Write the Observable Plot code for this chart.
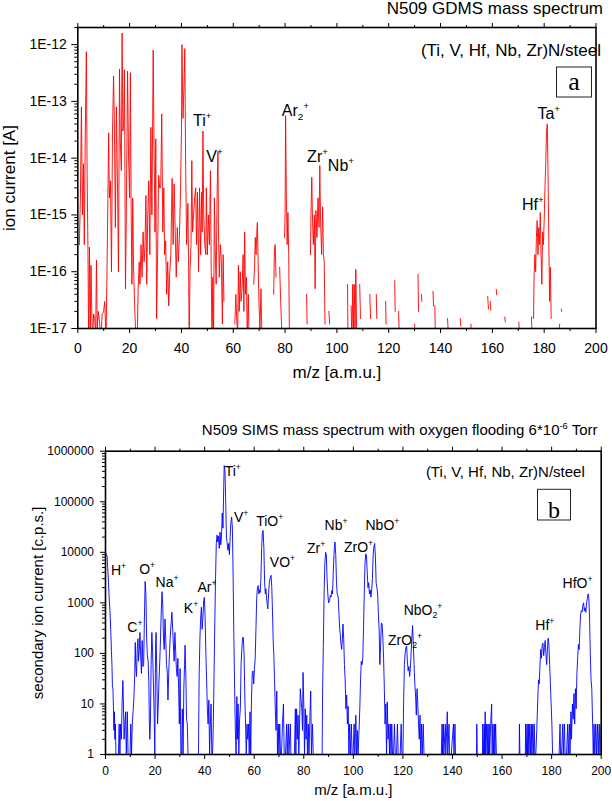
<!DOCTYPE html>
<html><head><meta charset="utf-8">
<script src="https://cdn.jsdelivr.net/npm/d3@7"></script>
<script src="https://cdn.jsdelivr.net/npm/@observablehq/plot@0.6"></script>
<style>
body{margin:0;background:#fff;}
#root{position:relative;width:612px;height:801px;background:#fff;overflow:hidden;}
#root svg{position:absolute;left:0;}
</style>
</head><body><div id="root"></div>
<script>
// ---------- DATA ----------
const gdmsSpectrum = [
[0.6,3e-16],[1.0,2e-15],[1.4,8e-14],[1.8,1e-15],[2.2,8e-15],[2.5,3e-16],[2.9,3e-14],[3.3,7.5e-13],[3.6,5e-15],[3.9,3e-16],[4.2,5e-18],[4.5,2.7e-16],[4.8,1e-17],[5.1,1.3e-16],[5.4,2e-17],[5.7,6e-18],[6.1,1.8e-17],[6.5,1.5e-17],[6.9,8e-18],[7.2,1.6e-16],[7.5,1e-17],[7.9,2e-17],[8.4,1.3e-17],[8.9,6e-18],[9.4,1.8e-17],[9.9,1.9e-17],[10.4,3e-17],[10.9,6e-18],
[11.4,3e-16],[11.9,2.8e-14],[12.2,2e-15],[12.6,4e-15],[13.0,1e-16],[13.4,3e-14],[13.8,2.8e-13],[14.1,5e-14],[14.5,6e-16],[14.9,8e-14],[15.3,4e-15],[15.7,1e-16],[16.1,3.7e-13],[16.4,2e-14],[16.8,6e-15],[17.1,1.6e-12],[17.4,3e-14],[17.7,4e-14],[18.0,3.6e-13],[18.4,5e-17],[18.7,8e-16],[19.2,3.4e-13],[19.6,1e-14],[20.0,2e-15],[20.3,3.2e-13],[20.6,1e-15],[20.9,6e-17],[21.2,2e-15],[21.5,1.3e-16],[22.0,2e-17],[22.5,6e-18],[22.9,5e-18],[23.3,5e-17],[23.7,1.5e-16],[24.0,6e-17],[24.4,3e-16],[24.8,8e-17],[25.2,5e-16],[25.6,1.5e-16],[25.9,2.7e-16],[26.3,2.2e-15],[26.6,6e-17],[27.0,1e-15],[27.4,4e-15],[27.8,2e-16],[28.2,3.5e-14],[28.6,1e-15],[29.1,8e-13],[29.4,2e-14],[29.8,5e-16],[30.1,2.2e-14],[30.4,1.5e-17],[30.8,2e-16],[31.2,5e-15],[31.6,3e-15],[32.0,3e-15],[32.4,6e-14],[32.8,5e-16],[33.2,3e-15],[33.5,2e-16],[33.9,3.5e-16],[34.3,4e-17],[34.7,1.5e-16],[35.1,2.5e-17],[35.5,1e-16],[35.9,2e-16],[36.4,4.4e-15],[36.8,3e-16],[37.2,3.5e-15],[37.6,5e-16],[38.0,8e-17],[38.4,6e-16],[38.8,1.5e-16],[39.2,4e-16],[39.6,2e-15],[40.0,3e-14],[40.2,1e-12],[40.6,5e-14],[41.0,2e-13],[41.3,8.5e-13],[41.6,1e-14],[42.0,3e-16],[42.5,1.6e-15],[42.8,8e-17],[43.0,5e-18],[43.3,1e-16],[43.7,3e-16],[44.0,9e-15],[44.3,5e-16],[44.7,1e-15],[45.1,2e-15],[45.5,3e-15],[45.8,3e-16],[46.2,2.5e-15],[46.6,1e-16],[47.0,3e-15],[47.4,2e-16],[47.8,2.5e-15],[48.0,5e-16],[48.3,3e-14],[48.6,1e-15],[49.0,3e-16],[49.4,2e-16],[49.6,3e-15],[50.0,2e-16],[50.4,1e-15],[50.8,3e-16],[51.2,6e-15],[51.5,1e-16],[51.8,5e-18],[52.1,8e-17],[52.4,5e-18],[52.7,2e-15],[53.0,3e-16],[53.4,6e-17],[53.8,3e-15],[54.1,1.3e-14],[54.3,5e-16],[54.6,8e-17],[55.0,3e-16],[55.4,1.5e-16],[55.8,1.2e-17],[56.1,2e-16],[56.4,3e-17],[56.6,null],
[60.6,1.2e-17],[61.0,4e-17],[61.3,1.5e-17],[61.7,8e-18],[62.0,1.3e-16],[62.3,2e-17],[62.7,1e-16],[63.0,3e-17],[63.4,5e-17],[63.8,2e-16],[64.1,2e-17],[64.4,5e-16],[64.7,4e-17],[65.1,8e-17],[65.4,6e-18],[65.8,4e-17],[66.1,6e-18],[66.4,null],
[67.9,6e-17],[68.2,1.2e-16],[68.5,4e-16],[68.8,2e-16],[69.1,5e-16],[69.3,7.4e-16],[69.6,1.5e-16],[69.9,3e-17],[70.3,1e-17],[70.7,5e-17],[71.1,6e-18],[71.3,null],
[75.6,4e-17],[75.9,2.5e-16],[76.2,3e-16],[76.5,8e-17],[76.7,null],
[77.9,1.2e-16],[78.3,3e-17],[78.7,1e-17],[78.9,null],
[79.8,4e-16],[80.0,1e-15],[80.2,5.6e-14],[80.5,2e-15],[80.8,3e-16],[81.1,1.1e-15],[81.4,2e-16],[81.7,5e-18],[81.9,null],
[88.3,4e-17],[88.5,1.2e-17],[88.7,null],
[89.8,2e-16],[90.0,1e-15],[90.3,4.6e-15],[90.6,8e-16],[90.9,3e-16],[91.3,1e-15],[91.6,5e-17],[91.9,1.2e-15],[92.3,4e-16],[92.7,2e-15],[93.1,6e-16],[93.4,7.4e-15],[93.7,8e-16],[94.1,2e-16],[94.5,1.4e-15],[94.8,2e-16],[95.1,1.5e-16],[95.4,1.2e-17],[95.6,null],
[96.9,2e-17],[97.2,1.2e-17],[97.4,null],
[104.1,6e-17],[104.3,5e-18],[104.6,null],
[105.5,2.5e-17],[105.8,5e-18],[106.1,6e-17],[106.4,1e-17],[106.7,6e-17],[107.0,8e-18],[107.3,1.1e-16],[107.6,1e-17],[107.8,null],
[108.8,6e-17],[109.1,1.5e-17],[109.3,null],
[112.7,4e-17],[113.0,1.5e-17],[113.2,null],
[115.2,4e-17],[115.4,1.5e-17],[115.6,null],
[118.8,3e-17],[119.0,1.2e-17],[119.2,null],
[122.3,7e-17],[122.5,2e-17],[122.7,null],
[123.8,2e-17],[124.0,1e-17],[124.2,null],
[130.0,1.2e-17],[130.2,8e-18],[130.4,null],
[131.3,9e-17],[131.5,2e-17],[131.7,null],
[132.6,4e-17],[132.8,3e-17],[133.0,null],
[137.1,4.5e-17],[137.3,2.5e-17],[137.5,null],
[137.8,2.5e-17],[138.0,8e-18],[138.2,null],
[142.7,1.5e-17],[142.9,1e-17],[143.1,null],
[147.6,1.5e-17],[147.8,1.1e-17],[148.0,null],
[151.7,1.2e-17],[151.9,8e-18],[152.1,null],
[158.2,3.7e-17],[158.5,2.2e-17],[158.7,null],
[159.2,3e-17],[159.4,2.1e-17],[159.6,null],
[161.5,4.9e-17],[161.7,3.9e-17],[161.9,null],
[164.8,1.6e-17],[165.0,1.3e-17],[165.2,null],
[170.2,1.3e-17],[170.4,9e-18],[170.6,null],
[175.1,1.6e-17],[175.3,8e-18],[175.5,null],
[175.9,1.5e-17],[176.1,8e-17],[176.4,2e-16],[176.7,1e-16],[177.0,4e-16],[177.3,8e-16],[177.6,2e-16],[177.9,6e-16],[178.2,3e-16],[178.5,1.1e-15],[178.8,2e-16],[179.1,6e-17],[179.4,5e-16],[179.7,3e-16],[180.0,8e-16],[180.3,3e-15],[180.6,8e-15],[180.9,3e-14],[181.2,4e-14],[181.5,5e-15],[181.8,3e-16],[182.1,3e-17],[182.4,1.2e-16],[182.7,1.5e-17],[182.9,null],
[185.8,1e-17],[186.0,1.2e-17],[186.2,null],
[186.6,2.2e-17],[186.8,2e-17]
];

const simsSpectrum = [
[0.0,9000],[0.3,9300],[0.6,8500],[0.9,5000],[1.2,2500],[1.5,1200],[1.8,700],[2.1,300],[2.4,110],[2.6,60],[2.8,22],[3.0,20],[3.2,9],[3.4,3],[3.6,7],[3.8,2],[4.0,4],[4.2,1],[4.5,1],[4.8,1],
[5.2,1],[5.5,4],[5.8,1],[6.1,4],[6.4,2],[6.7,10],[7.0,29],[7.2,12],[7.5,2],[7.8,4],[8.1,7],[8.4,1],[8.8,7],[9.1,1],[9.5,1],[9.9,1],[10.2,4],[10.5,1],[10.8,4],
[11.2,8],[11.5,15],[11.8,40],[12.0,165],[12.2,60],[12.5,35],[12.8,120],[13.1,195],[13.3,70],[13.6,110],[13.9,260],[14.2,90],[14.5,40],[14.8,180],[15.1,55],[15.4,60],[15.7,500],[16.0,2650],[16.3,1500],[16.6,200],[16.9,90],[17.2,70],[17.5,25],[17.7,4],[17.9,2],[18.1,4],[18.4,60],[18.7,260],[19.0,110],[19.3,30],[19.6,7],[19.9,1],[20.2,120],[20.4,260],[20.7,40],[21.0,4],[21.3,10],[21.6,30],[21.9,70],[22.2,200],[22.5,700],[22.8,1660],[23.1,900],[23.4,200],[23.7,120],[24.0,480],[24.3,200],[24.6,60],[24.9,45],[25.2,12],[25.5,40],[25.8,100],[26.1,200],[26.4,350],[26.8,650],[27.1,300],[27.4,150],[27.7,70],[28.0,260],[28.3,110],[28.6,50],[28.9,35],[29.2,80],[29.5,20],[29.8,4],[30.1,50],[30.4,1],[30.7,1],[31.0,8],[31.3,1],[31.6,20],[31.9,60],[32.1,145],[32.4,40],[32.7,5],[33.0,4],[33.3,1],
[34.0,1],[35.0,1],[36.0,1],[37.0,1],[37.5,1],[37.8,40],[38.1,200],[38.4,500],[38.7,820],[39.0,300],[39.3,500],[39.6,1100],[39.9,1280],[40.2,500],[40.5,100],[40.8,30],[41.1,8],[41.4,4],[41.7,12],[42.0,1],[42.3,4],[42.6,10],[42.9,1],[43.2,1],[43.5,4],[43.8,40],[44.1,400],[44.4,3000],[44.7,15000],[45.0,22000],[45.3,16000],[45.6,21000],[45.9,12000],[46.2,25000],[46.5,14000],[46.8,20000],[47.1,60000],[47.4,30000],[47.7,200000],[47.9,520000],[48.2,400000],[48.5,100000],[48.8,20000],[49.1,15000],[49.4,11000],[49.7,15000],[50.0,9000],[50.3,20000],[50.6,40000],[50.9,50000],[51.2,30000],[51.5,3000],[51.8,200],[52.1,20],[52.4,3],[52.7,1],[53.0,14],[53.2,2],[53.5,10],[53.8,1],[54.1,5],[54.4,8],[54.7,60],[55.0,120],[55.3,200],[55.6,210],[55.9,100],[56.2,15],[56.5,4],[56.8,1],[57.1,4],[57.4,2],[57.7,4],[58.0,1],[58.3,7],[58.6,1],[58.9,12],[59.2,40],[59.5,45],[59.8,25],[60.1,50],
[60.4,80],[60.7,300],[61.0,1200],[61.3,2000],[61.6,2200],[61.9,1500],[62.2,1800],[62.4,1600],[62.7,3000],[63.0,12000],[63.3,25000],[63.6,27000],[63.9,12000],[64.2,2500],[64.5,1500],[64.7,1900],[65.0,1200],[65.3,900],[65.5,760],[65.8,1500],[66.1,2500],[66.5,3200],[66.8,3500],[67.1,2000],[67.4,600],[67.7,150],[67.9,98],[68.2,30],[68.5,8],[68.8,3],[69.1,18],[69.4,1],[69.7,4],[70.0,1],[70.3,4],[70.6,1],[71.0,1],[71.4,4],[71.8,10],[72.1,1],[72.6,1],[73.1,4],[73.3,1],[73.8,4],[74.0,1],[74.6,4],[74.8,1],[75.5,1],[76.2,1],[76.6,8],[76.8,1],[77.1,8],[77.4,2],[77.7,6],[78.0,1],[78.3,4],[78.6,20],[78.9,12],[79.2,8],[79.5,3],[79.7,42],[80.0,10],[80.3,1],[80.6,8],[80.9,2],[81.2,6],[81.5,1],[81.8,4],[82.1,1],[82.5,6],[82.8,18],[83.1,1],[83.5,4],[83.8,1],[84.5,1],[85.5,1],[86.5,1],[87.4,1],
[87.6,18],[87.9,150],[88.2,1500],[88.5,6000],[88.8,10000],[89.1,9000],[89.4,3000],[89.7,1500],[90.0,1000],[90.4,1100],[90.7,1400],[91.0,1300],[91.3,1750],[91.6,1500],[91.9,4000],[92.3,12000],[92.6,16000],[92.9,9000],[93.2,2500],[93.5,1500],[93.9,1300],[94.2,600],[94.5,300],[94.7,250],[95.0,150],[95.3,120],[95.6,200],[95.8,380],[96.1,200],[96.4,60],[96.7,30],[97.0,8],[97.3,15],[97.6,4],[97.9,9],[98.2,1],[98.5,4],[98.8,1],[99.2,4],[99.5,1],[99.9,1],[100.3,4],[100.6,1],[101.0,6],[101.3,1],[101.6,3],[101.9,1],[102.3,3],[102.6,8],[102.9,30],[103.2,70],[103.5,60],[103.8,80],[104.1,300],[104.4,1500],[104.7,6000],[105.0,9300],[105.3,8500],[105.6,4000],[105.9,2000],[106.2,2500],[106.5,1500],[106.8,1800],[107.1,1300],[107.4,1800],[107.7,3000],[108.0,9000],[108.3,13000],[108.6,15000],[108.9,8000],[109.2,2500],[109.5,2000],[109.8,1500],[110.1,600],[110.4,300],[110.7,60],[111.0,150],[111.3,400],[111.6,380],[111.9,200],[112.2,80],[112.5,20],[112.8,4],[113.1,10],[113.4,1],[113.7,11],[114.0,2],[114.3,4],[114.6,1],[114.9,4],[115.2,1],[115.5,4],[115.8,1],[116.2,1],[116.6,4],[116.9,1],[117.4,1],[117.8,4],[118.1,1],[118.5,1],[118.9,1],[119.3,4],[119.6,1],[120.0,1],[120.3,12],[120.6,60],[120.9,100],[121.2,130],[121.5,140],[121.8,70],[122.1,45],[122.4,55],[122.7,35],[123.0,50],[123.3,100],[123.6,200],[123.9,355],[124.2,150],[124.5,60],[124.8,25],[125.1,15],[125.4,6],[125.7,20],[126.0,10],[126.3,4],[126.6,2],[126.9,6],[127.2,1],[127.5,4],[127.8,1],[128.2,4],[128.5,1],
[129.5,1],[130.5,1],[131.5,1],[132.5,1],[133.5,1],[134.5,1],[135.5,1],[135.8,4],[136.0,1],[136.3,4],[136.5,1],[137.1,4],[137.3,1],[137.9,7],[138.1,1],[138.6,4],[138.8,1],[139.5,1],[140.4,4],[140.6,1],[141.0,4],[141.2,1],[142,1],[143,1],[144,1],[145,1],[146,1],[147,1],[148,1],[149,1],[149.7,1],[149.8,4],[150.0,1],[151,1],[152.1,1],[152.2,4],[152.5,1],[152.8,4],[153.0,1],[153.2,7],[153.4,1],[153.7,4],[154.0,1],[154.3,4],[154.5,1],[154.8,4],[155.0,1],[155.4,4],[155.8,10],[156.0,1],[156.3,4],[156.6,1],[156.9,4],[157.1,1],[157.4,4],[157.7,1],[158.5,1],[160,1],[162,1],[164,1],[166,1],[166.9,1],[167.0,4],[167.2,1],[168,1],[169.4,1],[169.5,4],[169.8,1],[170.1,4],[170.3,1],[170.6,4],[170.8,1],[171.2,4],[171.4,1],[171.8,4],[172.0,1],[172.4,4],[172.6,1],[173.0,4],[173.2,1],[173.6,1],[174.0,3],[174.4,12],[174.7,30],[175.0,25],[175.3,60],[175.6,120],[175.9,80],[176.2,150],[176.5,160],[176.8,90],[177.1,130],[177.4,180],[177.7,100],[178.0,60],[178.3,120],[178.6,200],[178.9,150],[179.2,60],[179.5,25],[179.8,10],[180.1,4],[180.4,1],[180.7,1],[181.0,1],[182.0,1],[183.0,1],[183.4,4],[183.6,1],[184.0,1],[184.5,4],[184.7,1],[185.2,4],[185.4,1],[186.0,1],[186.5,4],[186.7,1],[187.2,4],[187.4,1],[187.8,7],[188.0,2],[188.4,10],[188.7,5],[189.0,16],[189.3,4],[189.6,20],[189.9,8],[190.2,40],[190.5,80],[190.8,150],[191.1,120],[191.4,300],[191.7,600],[192.0,700],[192.3,660],[192.6,900],[192.9,1000],[193.2,700],[193.5,800],[193.8,650],[194.1,1000],[194.4,1200],[194.7,1500],[195.0,1300],[195.3,500],[195.6,100],[195.9,30],[196.2,20],[196.5,5],[196.8,1],[197.1,4],[197.4,1],[197.8,4],[198.1,1],[198.5,4],[198.8,1],[199.2,4],[199.5,1],[199.9,4]
];

const gdmsPeakLabels = [
  {text:"Ti^{+}", mz:44.5, value:4.6e-14},
  {text:"V^{+}", mz:49.6, value:1.05e-14},
  {text:"Ar_{2}^{+}", mz:78.7, value:6.9e-14},
  {text:"Zr^{+}", mz:88.5, value:1.05e-14},
  {text:"Nb^{+}", mz:96.5, value:7.4e-15},
  {text:"Ta^{+}", mz:177.4, value:6e-14},
  {text:"Hf^{+}", mz:171.4, value:1.5e-15}
];
const simsPeakLabels = [
  {text:"Ti^{+}", mz:48.1, value:400000},
  {text:"V^{+}", mz:51.8, value:49000},
  {text:"TiO^{+}", mz:60.8, value:41000},
  {text:"Nb^{+}", mz:88.4, value:34000},
  {text:"NbO^{+}", mz:104.9, value:34000},
  {text:"Zr^{+}", mz:81.3, value:11800},
  {text:"ZrO^{+}", mz:96.2, value:12600},
  {text:"VO^{+}", mz:66.3, value:6300},
  {text:"H^{+}", mz:2.2, value:4360},
  {text:"O^{+}", mz:13.6, value:4500},
  {text:"Na^{+}", mz:20.2, value:2560},
  {text:"Ar^{+}", mz:37.1, value:2040},
  {text:"K^{+}", mz:31.6, value:760},
  {text:"C^{+}", mz:8.8, value:320},
  {text:"NbO_{2}^{+}", mz:120.3, value:710},
  {text:"ZrO_{2}^{+}", mz:114.0, value:180},
  {text:"Hf^{+}", mz:173.4, value:355},
  {text:"HfO^{+}", mz:184.4, value:2390}
];

const xMajorTicks = [0,20,40,60,80,100,120,140,160,180,200];
const xMinorTicks = [10,30,50,70,90,110,130,150,170,190];
const gdmsYTicks = [1e-17,1e-16,1e-15,1e-14,1e-13,1e-12];
const gdmsYTickLabels = ["1E-17","1E-16","1E-15","1E-14","1E-13","1E-12"];
const simsYTicks = [1,10,100,1000,10000,100000,1000000];
const simsYTickLabels = ["1","10","100","1000","10000","100000","1000000"];

const gdmsTitle = "N509 GDMS mass spectrum";
const simsTitle = "N509 SIMS mass spectrum with oxygen flooding 6*10^{-6} Torr";
const sampleText = "(Ti, V, Hf, Nb, Zr)N/steel";
const xTitle = "m/z [a.m.u.]";
const gdmsYTitle = "ion current [A]";
const simsYTitle = "secondary ion current [c.p.s.]";
const panelTags = ["a","b"];

// ---------- HELPERS ----------
const FONT = "'Liberation Sans', Arial, Helvetica, sans-serif";
function logMinor(ticks, topValue) {
  const out = [];
  for (const t of ticks) for (let k = 2; k <= 9; k++) { const v = k * t; if (v <= topValue * 1.0001) out.push(v); }
  return out;
}
function richify(svg) {
  d3.select(svg).selectAll("text").each(function() {
    const t = this.textContent;
    if (!/[\^_]\{/.test(t)) return;
    const fs = parseFloat(getComputedStyle(this).fontSize) || 14;
    const parts = t.split(/(\^\{[^}]*\}|_\{[^}]*\})/).filter(s => s.length);
    this.textContent = "";
    let cur = 0;
    for (const p of parts) {
      let target = 0, txt = p, size = null;
      if (p.startsWith("^{")) { target = -0.42 * fs; txt = p.slice(2, -1); size = 0.62 * fs; }
      else if (p.startsWith("_{")) { target = 0.25 * fs; txt = p.slice(2, -1); size = 0.62 * fs; }
      const ts = document.createElementNS("http://www.w3.org/2000/svg", "tspan");
      ts.setAttribute("dy", (target - cur).toFixed(2));
      if (size) ts.setAttribute("font-size", size.toFixed(1));
      ts.textContent = txt;
      this.appendChild(ts);
      cur = target;
    }
  });
}
function addTag(svg, letter, x, y, w, h, fs, baseline) {
  const g = d3.select(svg).append("g");
  g.append("rect").attr("x", x).attr("y", y).attr("width", w).attr("height", h)
    .attr("fill", "white").attr("stroke", "#222").attr("stroke-width", 1);
  g.append("text").attr("x", x + w / 2).attr("y", baseline).attr("text-anchor", "middle")
    .attr("font-family", "'Liberation Serif', 'Times New Roman', serif").attr("font-size", fs)
    .attr("fill", "black").text(letter);
}

const root = document.getElementById("root");

// ---------- TOP PANEL (GDMS) ----------
const gFmt = new Map(gdmsYTicks.map((v, i) => [v, gdmsYTickLabels[i]]));
const topSvg = Plot.plot({
  width: 612, height: 400,
  marginLeft: 77.3, marginRight: 16.5, marginTop: 27, marginBottom: 72,
  style: {fontFamily: FONT, fontSize: "14px", background: "white", color: "black", overflow: "visible"},
  x: {domain: [0, 200], axis: null, label: null},
  y: {type: "log", domain: [1e-17, 2e-12], axis: null, label: null},
  marks: [
    Plot.line(gdmsSpectrum, {x: d => d[0], y: d => d[1], stroke: "#ff0000", strokeWidth: 0.9, clip: true}),
    Plot.axisX({anchor: "bottom", ticks: xMajorTicks, tickSize: 5, tickPadding: 10, fontSize: 14, label: null, tickFormat: d => String(d)}),
    Plot.axisX({anchor: "bottom", ticks: xMinorTicks, tickSize: 3, tickFormat: () => "", label: null}),
    Plot.axisX({anchor: "top", ticks: xMajorTicks, tickSize: 5, tickFormat: () => "", label: null}),
    Plot.axisX({anchor: "top", ticks: xMinorTicks, tickSize: 3, tickFormat: () => "", label: null}),
    Plot.axisY({anchor: "left", ticks: gdmsYTicks, tickSize: 6, tickPadding: 5, fontSize: 14, tickFormat: d => gFmt.get(d), label: null}),
    Plot.axisY({anchor: "left", ticks: logMinor(gdmsYTicks, 2e-12), tickSize: 3, tickFormat: () => "", label: null}),
    Plot.frame({stroke: "black", strokeWidth: 1.6}),
    Plot.text(gdmsPeakLabels, {x: "mz", y: "value", text: "text", textAnchor: "start", lineAnchor: "middle", fontSize: 16, fill: "black"}),
    Plot.text([gdmsTitle], {text: d => d, frameAnchor: "top-right", textAnchor: "end", lineAnchor: "middle", dx: 7, dy: -18.7, fontSize: 17}),
    Plot.text([sampleText], {text: d => d, frameAnchor: "top-right", textAnchor: "end", lineAnchor: "middle", dx: 5, dy: 23, fontSize: 17}),
    Plot.text([xTitle], {text: d => d, frameAnchor: "bottom", textAnchor: "middle", lineAnchor: "middle", dy: 44, fontSize: 17}),
    Plot.text([gdmsYTitle], {text: d => d, frameAnchor: "left", rotate: -90, textAnchor: "middle", lineAnchor: "middle", dx: -68.3, fontSize: 17})
  ]
});
topSvg.style.top = "0px";
root.appendChild(topSvg);
richify(topSvg);
addTag(topSvg, panelTags[0], 556.5, 67, 35, 30, 26, 90);

// ---------- BOTTOM PANEL (SIMS) ----------
const sFmt = new Map(simsYTicks.map((v, i) => [v, simsYTickLabels[i]]));
const bottomSvg = Plot.plot({
  width: 612, height: 401,
  marginLeft: 105, marginRight: 11.3, marginTop: 50.7, marginBottom: 47,
  style: {fontFamily: FONT, fontSize: "12px", background: "white", color: "black", overflow: "visible"},
  x: {domain: [0, 200], axis: null, label: null},
  y: {type: "log", domain: [1, 1e6], axis: null, label: null},
  marks: [
    Plot.line(simsSpectrum, {x: d => d[0], y: d => d[1], stroke: "#0000ff", strokeWidth: 0.9, clip: true}),
    Plot.axisX({anchor: "bottom", ticks: xMajorTicks, tickSize: 5, tickPadding: 7, fontSize: 12, label: null, tickFormat: d => String(d)}),
    Plot.axisX({anchor: "bottom", ticks: xMinorTicks, tickSize: 3, tickFormat: () => "", label: null}),
    Plot.axisX({anchor: "top", ticks: xMajorTicks, tickSize: 5, tickFormat: () => "", label: null}),
    Plot.axisX({anchor: "top", ticks: xMinorTicks, tickSize: 3, tickFormat: () => "", label: null}),
    Plot.axisY({anchor: "left", ticks: simsYTicks, tickSize: 5, tickPadding: 6.5, fontSize: 12, tickFormat: d => sFmt.get(d), label: null}),
    Plot.axisY({anchor: "left", ticks: logMinor(simsYTicks.slice(0, -1), 1e6), tickSize: 3, tickFormat: () => "", label: null}),
    Plot.frame({stroke: "black", strokeWidth: 1.6}),
    Plot.text(simsPeakLabels, {x: "mz", y: "value", text: "text", textAnchor: "start", lineAnchor: "middle", fontSize: 14, fill: "black"}),
    Plot.text([simsTitle], {text: d => d, frameAnchor: "top-right", textAnchor: "end", lineAnchor: "middle", dx: -3.7, dy: -20.7, fontSize: 15}),
    Plot.text([sampleText], {text: d => d, frameAnchor: "top-right", textAnchor: "end", lineAnchor: "middle", dx: -16.4, dy: 21, fontSize: 15}),
    Plot.text([xTitle], {text: d => d, frameAnchor: "bottom", textAnchor: "middle", lineAnchor: "middle", dy: 36, fontSize: 15}),
    Plot.text([simsYTitle], {text: d => d, frameAnchor: "left", rotate: -90, textAnchor: "middle", lineAnchor: "middle", dx: -67, fontSize: 15})
  ]
});
bottomSvg.style.top = "400px";
root.appendChild(bottomSvg);
richify(bottomSvg);
addTag(bottomSvg, panelTags[1], 537.5, 89.3, 33, 30.7, 24, 118.3);
</script>
</body></html>
